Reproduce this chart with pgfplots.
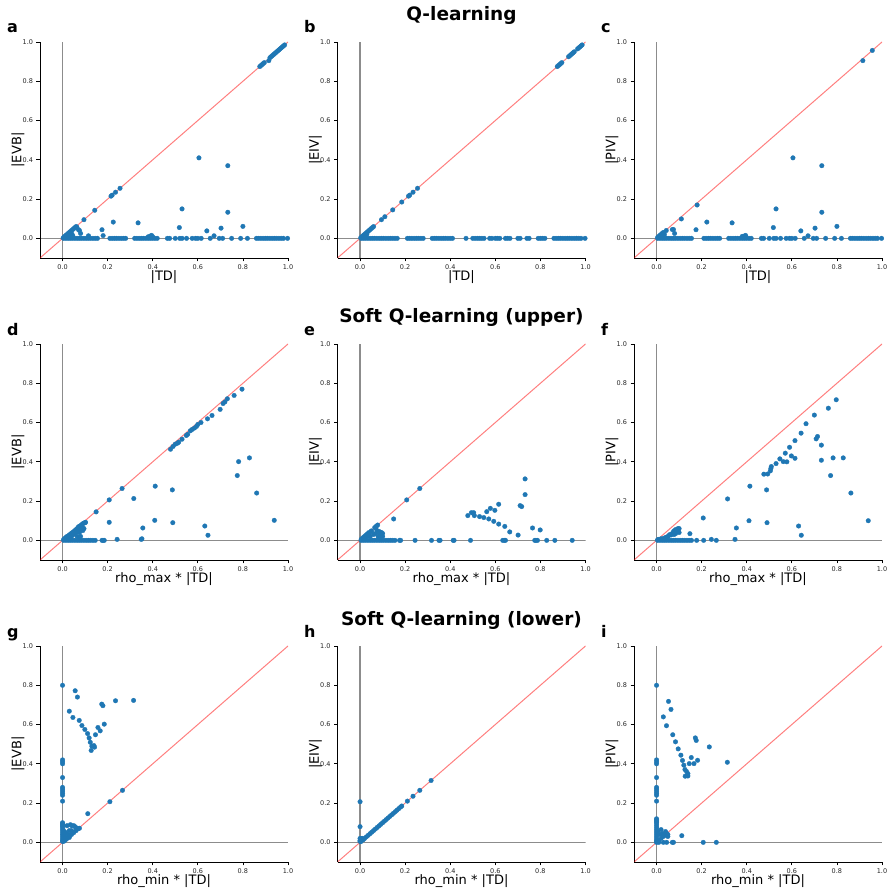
\documentclass[border=0pt]{standalone}
\usepackage{fontspec}
\setmainfont{DejaVu Sans}
\usepackage{pgfplots}
\pgfplotsset{compat=1.18}

\definecolor{tabblue}{HTML}{1F77B4}

\pgfplotsset{
  panel/.style={
    scale only axis, width=248pt, height=216pt,
    xmin=-0.1, xmax=1.0, ymin=-0.1, ymax=1.0,
    axis x line*=bottom, axis y line*=left,
    axis line style={black, line width=0.9pt, -},
    xtick={0,0.2,0.4,0.6,0.8,1.0}, ytick={0,0.2,0.4,0.6,0.8,1.0},
    xticklabels={0.0,0.2,0.4,0.6,0.8,1.0}, yticklabels={0.0,0.2,0.4,0.6,0.8,1.0},
    tick align=outside, major tick length=3.5pt,
    tick style={black, line width=0.8pt},
    ticklabel style={font=\fontsize{6.5}{7}\selectfont, text=black!85},
    label style={font=\fontsize{13}{15}\selectfont},
    xlabel style={at={(axis description cs:0.5,-0.088)}, anchor=center},
    ylabel style={at={(axis description cs:-0.089,0.5)}, anchor=center, rotate=0},
  },
  dots/.style={tabblue, only marks, mark=*, mark size=2.3pt, mark options={solid, draw=tabblue, fill=tabblue, line width=0.3pt}},
  zline/.style={black, opacity=0.45, line width=1.6pt, forget plot},
  diag/.style={red, opacity=0.5, line width=1pt, forget plot},
}

% shared helpers for reference lines
\newcommand{\zerolines}{%
  \addplot[zline] coordinates {(0,-0.1) (0,1.0)};
  \addplot[zline] coordinates {(-0.1,0) (1.0,0)};
}
\newcommand{\diagline}{\addplot[diag] coordinates {(-0.1,-0.1) (1.0,1.0)};}

\begin{document}
\begin{tikzpicture}
\path[use as bounding box] (0,0) rectangle (889pt,888pt);

% ---------------- row 1: Q-learning ----------------
\begin{axis}[panel, at={(40pt,630pt)}, anchor=south west, xlabel={|TD|}, ylabel={|EVB|}]
\addplot[dots] coordinates {
(0.005,0)(0.015,0)(0.025,0)(0.035,0)(0.045,0)(0.055,0)(0.065,0)(0.075,0)(0.085,0)(0.095,0)(0.105,0)(0.115,0)(0.125,0)(0.135,0)(0.145,0)(0.155,0)
(0.21,0)(0.22,0)(0.23,0)(0.24,0)(0.25,0)(0.26,0)(0.27,0)(0.28,0)
(0.32,0)(0.33,0)(0.34,0)(0.35,0)(0.36,0)(0.37,0)(0.38,0)(0.39,0)(0.40,0)(0.41,0)(0.42,0)
(0.465,0)(0.475,0)(0.50,0)(0.52,0)(0.53,0)(0.55,0)(0.575,0)(0.59,0)(0.60,0)(0.615,0)(0.655,0)(0.695,0)(0.71,0)(0.75,0)(0.79,0)(0.82,0)
(0.86,0)(0.87,0)(0.88,0)(0.89,0)(0.90,0)(0.91,0)(0.92,0)(0.93,0)(0.94,0)(0.95,0)(0.96,0)(0.97,0)(0.98,0)(0.998,0)
(0.003,0.003)(0.008,0.008)(0.012,0.012)(0.016,0.016)(0.02,0.02)(0.025,0.025)(0.03,0.03)(0.035,0.035)(0.04,0.04)(0.045,0.045)(0.05,0.05)(0.055,0.055)(0.06,0.06)(0.063,0.058)
(0.095,0.095)(0.143,0.143)(0.215,0.215)(0.22,0.22)(0.235,0.235)(0.255,0.255)
(0.025,0.01)(0.03,0.015)(0.035,0.02)(0.04,0.025)(0.045,0.015)(0.07,0.045)(0.075,0.04)(0.08,0.025)(0.115,0.013)(0.175,0.044)(0.18,0.014)(0.225,0.083)(0.335,0.079)(0.38,0.008)(0.39,0.012)(0.395,0.015)(0.40,0.008)
(0.605,0.41)(0.733,0.37)(0.53,0.15)(0.733,0.133)(0.518,0.055)(0.64,0.038)(0.703,0.052)(0.80,0.061)(0.672,0.013)
(0.875,0.875)(0.88,0.88)(0.885,0.885)(0.89,0.89)(0.895,0.895)(0.915,0.905)(0.92,0.92)(0.925,0.925)(0.93,0.93)(0.935,0.935)(0.94,0.94)(0.945,0.945)(0.95,0.95)(0.955,0.955)(0.96,0.96)(0.965,0.965)(0.97,0.97)(0.975,0.975)(0.98,0.98)(0.985,0.985)
};
\zerolines
\diagline
\end{axis}

\begin{axis}[panel, at={(337.5pt,630pt)}, anchor=south west, xlabel={|TD|}, ylabel={|EIV|}]
\addplot[dots] coordinates {
(0.005,0)(0.015,0)(0.025,0)(0.035,0)(0.045,0)(0.055,0)(0.065,0)(0.075,0)(0.085,0)(0.095,0)(0.105,0)(0.115,0)(0.125,0)(0.135,0)(0.145,0)(0.155,0)(0.165,0)
(0.21,0)(0.22,0)(0.23,0)(0.24,0)(0.25,0)(0.26,0)(0.27,0)(0.28,0)
(0.32,0)(0.33,0)(0.34,0)(0.35,0)(0.36,0)(0.37,0)(0.38,0)(0.39,0)(0.40,0)(0.41,0)
(0.47,0)(0.50,0)(0.51,0)(0.52,0)(0.53,0)(0.54,0)(0.55,0)(0.575,0)(0.585,0)(0.60,0)(0.61,0)(0.62,0)(0.645,0)(0.655,0)(0.665,0)(0.70,0)(0.71,0)(0.74,0)(0.75,0)
(0.79,0)(0.80,0)(0.81,0)(0.82,0)(0.86,0)(0.87,0)(0.88,0)(0.89,0)(0.90,0)(0.91,0)(0.92,0)(0.93,0)(0.94,0)(0.95,0)(0.96,0)(0.97,0)(0.98,0)(0.998,0)
(0.003,0.003)(0.008,0.008)(0.012,0.012)(0.016,0.016)(0.02,0.02)(0.025,0.025)(0.03,0.03)(0.035,0.035)(0.04,0.04)(0.045,0.045)(0.05,0.05)(0.055,0.055)(0.06,0.06)
(0.02,0.01)(0.025,0.015)(0.03,0.02)
(0.095,0.095)(0.11,0.11)(0.145,0.145)(0.185,0.185)(0.215,0.215)(0.22,0.22)(0.235,0.235)(0.255,0.255)
(0.875,0.875)(0.88,0.88)(0.885,0.885)(0.89,0.89)(0.895,0.895)(0.925,0.925)(0.93,0.93)(0.935,0.935)(0.94,0.94)(0.945,0.945)(0.95,0.95)(0.965,0.965)(0.97,0.97)(0.975,0.975)(0.98,0.98)(0.985,0.985)
};
\zerolines
\diagline
\end{axis}

\begin{axis}[panel, at={(634pt,630pt)}, anchor=south west, xlabel={|TD|}, ylabel={|PIV|}]
\addplot[dots] coordinates {
(0.005,0)(0.015,0)(0.025,0)(0.035,0)(0.045,0)(0.055,0)(0.065,0)(0.075,0)(0.085,0)(0.095,0)(0.105,0)(0.115,0)(0.125,0)(0.135,0)(0.145,0)(0.155,0)
(0.21,0)(0.22,0)(0.23,0)(0.24,0)(0.25,0)(0.26,0)(0.27,0)(0.28,0)
(0.32,0)(0.33,0)(0.34,0)(0.35,0)(0.36,0)(0.37,0)(0.38,0)(0.39,0)(0.40,0)(0.41,0)(0.42,0)
(0.465,0)(0.475,0)(0.50,0)(0.52,0)(0.53,0)(0.55,0)(0.575,0)(0.59,0)(0.60,0)(0.615,0)(0.655,0)(0.695,0)(0.71,0)(0.75,0)(0.79,0)(0.82,0)
(0.86,0)(0.87,0)(0.88,0)(0.89,0)(0.90,0)(0.91,0)(0.92,0)(0.93,0)(0.94,0)(0.95,0)(0.96,0)(0.97,0)(0.98,0)(0.998,0)
(0.005,0.005)(0.01,0.01)(0.015,0.015)(0.02,0.02)(0.025,0.025)(0.03,0.03)(0.043,0.04)(0.11,0.099)(0.18,0.17)(0.915,0.905)(0.957,0.957)
(0.025,0.01)(0.03,0.015)(0.035,0.02)(0.07,0.045)(0.075,0.045)(0.08,0.025)(0.175,0.044)(0.223,0.083)(0.335,0.079)(0.38,0.01)(0.39,0.012)(0.395,0.015)
(0.53,0.15)(0.733,0.133)(0.605,0.41)(0.733,0.37)(0.518,0.055)(0.64,0.038)(0.703,0.052)(0.80,0.061)(0.672,0.013)
};
\zerolines
\diagline
\end{axis}

% ---------------- row 2: Soft Q-learning (upper) ----------------
\begin{axis}[panel, at={(40pt,328pt)}, anchor=south west, xlabel={rho\_max * |TD|}, ylabel={|EVB|}]
\addplot[dots] coordinates {
(0.005,0)(0.015,0)(0.025,0)(0.035,0)(0.045,0)(0.055,0)(0.065,0)(0.075,0)(0.085,0)(0.095,0)(0.105,0)(0.115,0)(0.125,0)(0.135,0)(0.145,0)(0.175,0)(0.18,0)(0.185,0)
(0.005,0.005)(0.01,0.01)(0.015,0.015)(0.02,0.02)(0.025,0.022)(0.03,0.028)(0.035,0.03)(0.04,0.037)(0.045,0.04)(0.05,0.045)(0.055,0.05)(0.06,0.055)(0.065,0.06)(0.07,0.068)(0.075,0.072)(0.08,0.075)(0.085,0.08)(0.09,0.085)(0.095,0.088)(0.1,0.09)(0.102,0.092)
(0.03,0.015)(0.04,0.02)(0.05,0.03)(0.055,0.035)(0.06,0.04)(0.07,0.045)(0.075,0.04)(0.08,0.06)(0.085,0.055)(0.09,0.05)(0.088,0.065)(0.095,0.06)(0.08,0.02)(0.075,0.01)(0.065,0.02)
(0.149,0.145)(0.207,0.206)(0.264,0.264)(0.207,0.092)(0.316,0.213)(0.356,0.063)(0.409,0.102)(0.411,0.276)(0.487,0.257)(0.489,0.09)(0.631,0.073)(0.645,0.026)(0.242,0.005)(0.349,0.005)(0.352,0.008)
(0.479,0.464)(0.49,0.478)(0.50,0.49)(0.51,0.495)(0.515,0.50)(0.53,0.515)(0.549,0.534)(0.555,0.54)(0.567,0.558)(0.575,0.565)(0.585,0.572)(0.594,0.58)(0.60,0.59)(0.614,0.60)(0.643,0.619)(0.663,0.636)(0.699,0.667)(0.712,0.697)(0.72,0.705)(0.731,0.721)(0.761,0.738)(0.796,0.77)
(0.775,0.33)(0.781,0.401)(0.829,0.42)(0.861,0.241)(0.939,0.102)
};
\zerolines
\diagline
\end{axis}

\begin{axis}[panel, at={(337.5pt,328pt)}, anchor=south west, xlabel={rho\_max * |TD|}, ylabel={|EIV|}]
\addplot[dots] coordinates {
(0.005,0)(0.015,0)(0.025,0)(0.035,0)(0.045,0)(0.055,0)(0.065,0)(0.075,0)(0.085,0)(0.095,0)(0.105,0)(0.115,0)(0.125,0)(0.135,0)(0.145,0)(0.155,0)(0.175,0)(0.18,0)
(0.244,0)(0.317,0)(0.35,0)(0.355,0)(0.413,0)(0.417,0)(0.49,0)(0.633,0)(0.64,0)(0.645,0)(0.775,0)(0.78,0)(0.787,0)(0.828,0)(0.864,0)(0.941,0)
(0.005,0.005)(0.01,0.01)(0.015,0.015)(0.02,0.02)(0.025,0.025)(0.03,0.03)(0.035,0.035)(0.04,0.04)(0.05,0.048)(0.065,0.065)(0.072,0.072)(0.078,0.078)
(0.02,0.01)(0.03,0.02)(0.04,0.025)(0.045,0.02)(0.05,0.045)(0.06,0.03)(0.07,0.035)(0.075,0.05)(0.085,0.045)(0.09,0.04)(0.095,0.04)(0.1,0.035)(0.09,0.03)(0.08,0.02)(0.085,0.01)(0.07,0.065)(0.1,0.02)(0.095,0.025)
(0.149,0.109)(0.207,0.206)(0.265,0.264)
(0.732,0.313)(0.732,0.233)(0.615,0.184)(0.71,0.177)(0.717,0.172)(0.578,0.163)(0.598,0.153)(0.562,0.146)(0.494,0.141)(0.504,0.141)(0.478,0.126)(0.507,0.126)(0.53,0.121)(0.549,0.116)(0.571,0.109)(0.593,0.097)(0.615,0.083)(0.642,0.071)(0.664,0.043)(0.701,0.027)(0.765,0.063)(0.799,0.053)
};
\zerolines
\diagline
\end{axis}

\begin{axis}[panel, at={(634pt,328pt)}, anchor=south west, xlabel={rho\_max * |TD|}, ylabel={|PIV|}]
\addplot[dots] coordinates {
(0.005,0)(0.015,0)(0.025,0)(0.035,0)(0.045,0)(0.055,0)(0.065,0)(0.075,0)(0.085,0)(0.095,0)(0.105,0)(0.115,0)(0.125,0)(0.135,0)(0.145,0)(0.155,0)(0.178,0)(0.209,0)(0.265,0)
(0.005,0.003)(0.01,0.005)(0.02,0.008)(0.03,0.01)(0.04,0.015)(0.05,0.02)(0.055,0.025)(0.06,0.03)(0.065,0.028)(0.07,0.035)
(0.08,0.05)(0.085,0.055)(0.09,0.05)(0.095,0.06)(0.1,0.06)(0.09,0.045)(0.08,0.04)(0.085,0.035)(0.075,0.045)(0.1,0.04)(0.095,0.05)(0.078,0.03)
(0.148,0.034)(0.243,0.005)(0.348,0.005)(0.354,0.063)(0.207,0.114)(0.41,0.10)(0.49,0.09)(0.315,0.211)(0.414,0.276)(0.488,0.257)(0.63,0.073)(0.642,0.026)
(0.797,0.716)(0.762,0.673)(0.70,0.638)(0.663,0.594)(0.641,0.546)(0.614,0.508)(0.714,0.529)(0.708,0.517)(0.731,0.485)(0.59,0.474)(0.571,0.444)(0.547,0.415)(0.598,0.43)(0.614,0.418)(0.562,0.401)(0.578,0.40)
(0.53,0.391)(0.509,0.376)(0.507,0.366)(0.505,0.354)(0.493,0.338)(0.476,0.337)(0.783,0.42)(0.828,0.42)(0.731,0.408)(0.772,0.33)(0.862,0.241)(0.939,0.10)
};
\zerolines
\diagline
\end{axis}

% ---------------- row 3: Soft Q-learning (lower) ----------------
\begin{axis}[panel, at={(40pt,26pt)}, anchor=south west, xlabel={rho\_min * |TD|}, ylabel={|EVB|}]
\addplot[dots] coordinates {
(0,0.8)(0,0.42)(0,0.41)(0,0.40)(0,0.33)(0,0.28)(0,0.27)(0,0.26)(0,0.25)(0,0.24)(0,0.21)
(0,0.1)(0,0.095)(0,0.09)(0,0.085)(0,0.08)(0,0.07)(0,0.06)(0,0.05)(0,0.04)(0,0.03)(0,0.02)(0,0.01)(0,0.005)
(0.005,0.005)(0.01,0.01)(0.015,0.015)(0.02,0.02)(0.03,0.03)(0.04,0.04)(0.05,0.05)(0.06,0.06)(0.07,0.07)(0.075,0.072)
(0.01,0.03)(0.015,0.05)(0.02,0.085)(0.03,0.06)(0.035,0.09)(0.04,0.085)(0.045,0.05)(0.05,0.085)(0.055,0.08)(0.06,0.075)(0.025,0.04)(0.03,0.025)(0.04,0.06)(0.005,0.06)(0.008,0.04)
(0.112,0.146)(0.21,0.207)(0.266,0.265)
(0.056,0.772)(0.066,0.74)(0.03,0.668)(0.046,0.636)(0.074,0.621)(0.086,0.595)(0.099,0.575)(0.111,0.554)(0.118,0.532)(0.123,0.51)(0.13,0.49)(0.127,0.468)(0.139,0.493)(0.142,0.485)
(0.146,0.548)(0.157,0.585)(0.167,0.568)(0.185,0.602)(0.174,0.704)(0.179,0.696)(0.235,0.721)(0.315,0.723)
};
\zerolines
\diagline
\end{axis}

\begin{axis}[panel, at={(337.5pt,26pt)}, anchor=south west, xlabel={rho\_min * |TD|}, ylabel={|EIV|}]
\addplot[dots] coordinates {
(0,0.207)(0,0.08)(0,0.02)(0,0.01)(0,0.005)(0.005,0.02)(0.01,0.02)(0.015,0.015)
(0.004,0.004)(0.012,0.012)(0.02,0.02)(0.028,0.028)(0.036,0.036)(0.044,0.044)(0.052,0.052)(0.06,0.06)(0.068,0.068)(0.076,0.076)(0.084,0.084)(0.092,0.092)
(0.1,0.1)(0.108,0.108)(0.116,0.116)(0.124,0.124)(0.132,0.132)(0.14,0.14)(0.148,0.148)(0.156,0.156)(0.164,0.164)(0.172,0.172)(0.18,0.18)(0.185,0.185)
(0.21,0.21)(0.235,0.235)(0.265,0.265)(0.315,0.315)
};
\zerolines
\diagline
\end{axis}

\begin{axis}[panel, at={(634pt,26pt)}, anchor=south west, xlabel={rho\_min * |TD|}, ylabel={|PIV|}]
\addplot[dots] coordinates {
(0,0.8)(0,0.42)(0,0.41)(0,0.40)(0,0.33)(0,0.28)(0,0.27)(0,0.26)(0,0.25)(0,0.24)(0,0.21)
(0,0.12)(0,0.115)(0,0.11)(0,0.105)(0,0.1)(0,0.09)(0,0.08)(0,0.07)(0,0.06)(0,0.05)(0,0.04)(0,0.03)(0,0.02)(0,0.01)(0,0.005)(0,0)
(0.02,0.065)(0.005,0.055)(0.04,0.055)(0.045,0.045)(0.05,0.04)(0.05,0.03)(0.03,0.03)(0.02,0.02)(0.01,0.01)(0.015,0.04)(0.025,0.045)(0.035,0.035)
(0.01,0)(0.03,0)(0.045,0)(0.07,0)(0.075,0)
(0.112,0.034)(0.207,0)(0.265,0)
(0.053,0.718)(0.064,0.677)(0.03,0.639)(0.044,0.594)(0.072,0.548)(0.084,0.512)(0.096,0.476)(0.108,0.444)(0.115,0.417)(0.121,0.393)(0.126,0.371)(0.133,0.361)(0.139,0.35)(0.127,0.337)(0.139,0.338)
(0.145,0.401)(0.154,0.432)(0.166,0.401)(0.182,0.418)(0.172,0.532)(0.176,0.519)(0.234,0.486)(0.314,0.408)
};
\zerolines
\diagline
\end{axis}

% titles and panel letters
\node[anchor=base, font=\fontsize{18.5}{20}\selectfont\bfseries] at (461.5pt,867pt) {Q-learning};
\node[anchor=base, font=\fontsize{18.5}{20}\selectfont\bfseries] at (461.5pt,565pt) {Soft Q-learning (upper)};
\node[anchor=base, font=\fontsize{18.5}{20}\selectfont\bfseries] at (461.5pt,262pt) {Soft Q-learning (lower)};
\foreach \lx/\ly/\lt in {7/855/a, 304/855/b, 601/855/c, 7/552/d, 304/552/e, 601/552/f, 7/250/g, 304/250/h, 601/250/i}
  \node[anchor=base west, inner sep=0pt, font=\fontsize{16}{18}\selectfont\bfseries] at (\lx pt,\ly pt) {\lt};
\end{tikzpicture}
\end{document}
